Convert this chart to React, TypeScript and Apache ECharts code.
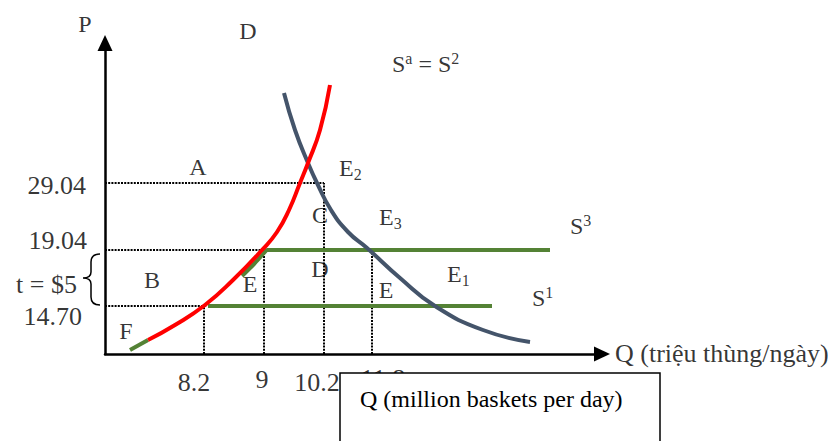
import React, { useEffect, useRef } from "react";
import * as echarts from "echarts";

// Schematic diagram units: x = position along Q axis, y = position along P axis
const qTickLabels = ["8.2", "9", "10.2", "11.8"];
const qTickPos = [99, 159, 219, 267];
const qGuideTop = [48, 104, 171, 104];
const qLabelPos = [89, 157, 212, 278];
const qLabelY = [-28, -25, -28, -24];

const pTickLabels = ["29.04", "19.04", "14.70"];
const pTickPos = [171, 104, 48];
const pGuideEnd = [219, 161, 102];
const pLabelY = [169, 114, 38];
const pLabelRight = [-19, -18, -23];

const demandD = [
  [179, 261], [190, 224], [203, 191], [212, 171], [226, 144], [243, 122],
  [262, 106], [295, 76], [330, 48], [378, 24], [425, 12],
];
const supplySa = [
  [43, 14], [70, 29], [100, 49], [128, 74], [157, 104], [172, 122],
  [184, 144], [195, 171], [203, 191], [215, 224], [225, 269],
];
const supplyS1Low = [[25, 4], [43, 14]];
const supplyS1 = [[103, 48], [387, 48]];
const supplyS3 = [[137, 78], [149, 90], [159, 101], [162, 104], [445, 104]];

const annotationTexts = [
  "{m|P}",
  "{m|D}",
  "{m|S}{sup|a}{m| = S}{sup|2}",
  "{m|E}{sub|2}",
  "{m|A}",
  "{m|C}",
  "{m|E}{sub|3}",
  "{m|S}{sup|3}",
  "{m|D}",
  "{m|E}{sub|1}",
  "{m|E}",
  "{m|S}{sup|1}",
  "{m|B}",
  "{m|E}",
  "{m|F}",
  "{n|t = $5}",
  "{n|Q (triệu thùng/ngày)}",
];
const annotationPos = [
  [-20, 330], [143, 323], [287, 290], [234, 186], [93, 187], [215, 139],
  [274, 137], [465, 128], [215, 85], [342, 80], [281, 64], [427, 56],
  [47, 74], [145, 70], [21, 23], [-28, 70], [510, 1],
];
const annotationAlign = [
  "center", "center", "left", "left", "center", "center",
  "left", "left", "center", "left", "center", "left",
  "center", "center", "center", "right", "left",
];

const FONT = "Liberation Serif";

const bracePath =
  "M100 254 Q91 254 91 262 L91 272 Q91 278 83 278 Q91 278 91 284 L91 297 Q91 305 100 305";

let braceRegistered = false;

export default function App() {
  const ref = useRef<HTMLDivElement>(null);

  useEffect(() => {
    if (!ref.current) return;
    if (!braceRegistered) {
      echarts.graphic.registerShape("brace", echarts.graphic.extendPath(bracePath, {}) as any);
      braceRegistered = true;
    }
    const chart = echarts.init(ref.current, undefined, { renderer: "svg" });

    const guideStyle = { color: "#000", width: 2, type: [2, 1.2] as any };
    const guideSeries: any[] = [];
    qTickPos.forEach((q, i) => {
      guideSeries.push({
        type: "line",
        data: [[q, 0], [q, qGuideTop[i]]],
        symbol: "none",
        lineStyle: guideStyle,
        z: 1,
        silent: true,
      });
    });
    pTickPos.forEach((p, i) => {
      guideSeries.push({
        type: "line",
        data: [[0, p], [pGuideEnd[i], p]],
        symbol: "none",
        lineStyle: guideStyle,
        z: 1,
        silent: true,
      });
    });

    const green = "#548235";
    const curve = (data: number[][], color: string, width: number, z: number, smooth: any) => ({
      type: "line",
      data,
      symbol: "none",
      smooth,
      lineStyle: { color, width, cap: "butt" },
      z,
      silent: true,
    });

    const labelData: any[] = [];
    annotationTexts.forEach((t, i) => {
      labelData.push({
        value: annotationPos[i],
        label: { formatter: t, align: annotationAlign[i] },
      });
    });
    qTickLabels.forEach((t, i) => {
      labelData.push({
        value: [qLabelPos[i], qLabelY[i]],
        label: { formatter: "{n|" + t + "}", align: "center" },
      });
    });
    pTickLabels.forEach((t, i) => {
      labelData.push({
        value: [pLabelRight[i], pLabelY[i]],
        label: { formatter: "{n|" + t + "}", align: "right" },
      });
    });

    chart.setOption({
      animation: false,
      backgroundColor: "#fff",
      grid: { left: 105, top: 43, right: 226, bottom: 87, containLabel: false, outerBoundsMode: "none" },
      xAxis: {
        type: "value",
        min: 0,
        max: 497,
        axisLine: {
          show: true,
          lineStyle: { color: "#000", width: 2.5 },
          symbol: ["none", "triangle"],
          symbolSize: [15, 16],
        },
        axisTick: { show: false },
        axisLabel: { show: false },
        splitLine: { show: false },
      },
      yAxis: {
        type: "value",
        min: 0,
        max: 311,
        axisLine: {
          show: true,
          lineStyle: { color: "#000", width: 2.5 },
          symbol: ["none", "triangle"],
          symbolSize: [15, 16],
        },
        axisTick: { show: false },
        axisLabel: { show: false },
        splitLine: { show: false },
      },
      series: [
        ...guideSeries,
        curve(supplyS1Low, green, 4, 2, false),
        curve(supplyS1, green, 4, 2, false),
        curve(supplyS3, green, 4, 2, 0.2),
        curve(demandD, "#44546a", 4, 3, 0.5),
        curve(supplySa, "#ff0000", 4, 4, 0.5),
        {
          type: "scatter",
          data: labelData,
          symbolSize: 1,
          itemStyle: { color: "rgba(0,0,0,0)" },
          clip: false,
          silent: true,
          z: 5,
          label: {
            show: true,
            position: "inside",
            verticalAlign: "middle",
            color: "#000",
            rich: {
              m: { fontFamily: FONT, fontSize: 24, lineHeight: 28, color: "#000" },
              n: { fontFamily: FONT, fontSize: 26, lineHeight: 28, color: "#000" },
              sub: { fontFamily: FONT, fontSize: 16, lineHeight: 16, verticalAlign: "bottom", color: "#000" },
              sup: { fontFamily: FONT, fontSize: 16, lineHeight: 16, verticalAlign: "top", color: "#000" },
            },
          },
        },
      ],
      graphic: [
        {
          type: "brace",
          x: 0,
          y: 0,
          z: 50,
          style: { stroke: "#000", fill: "none", lineWidth: 1.5 },
        },
        {
          type: "rect",
          z: 100,
          shape: { x: 340, y: 373, width: 320, height: 90 },
          style: { fill: "#fff", stroke: "#000", lineWidth: 1.5 },
        },
        {
          type: "text",
          z: 101,
          x: 360,
          y: 399,
          style: {
            text: "Q (million baskets per day)",
            fontFamily: FONT,
            fontSize: 24,
            fill: "#000",
            align: "left",
            verticalAlign: "middle",
          },
        },
      ],
    });

    return () => chart.dispose();
  }, []);

  return (
    <div
      ref={ref}
      style={{ position: "fixed", left: 0, top: 0, width: 828, height: 441, background: "#fff" }}
    />
  );
}
